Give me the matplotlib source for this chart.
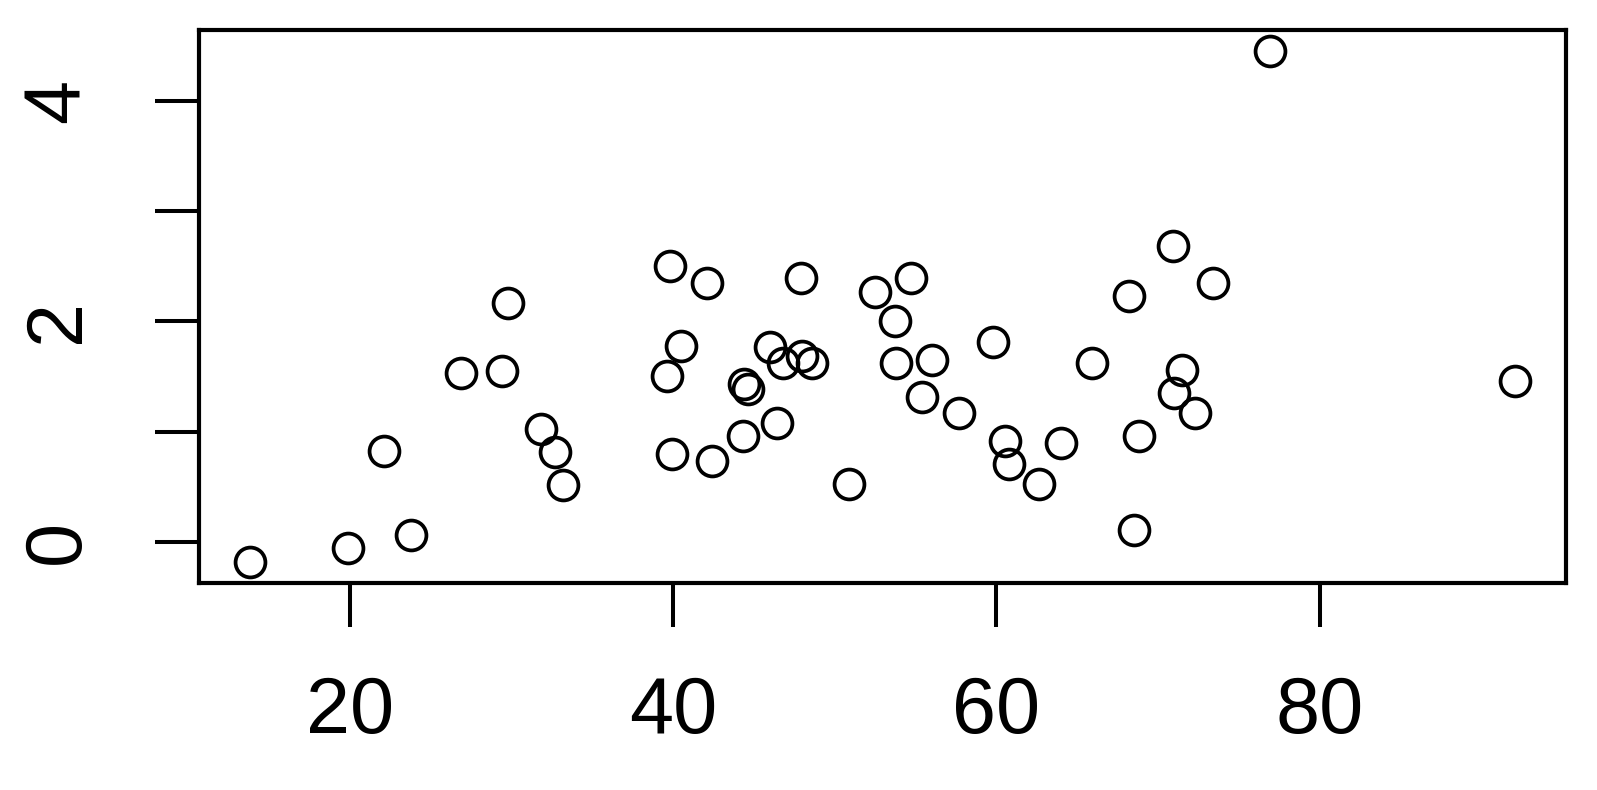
import numpy as np
import matplotlib
matplotlib.use("Agg")
from matplotlib import pyplot as plt

# values
x = [13.8, 19.9, 23.8, 22.1, 26.9, 29.4, 29.8, 31.8, 32.7, 33.2,
     39.8, 39.6, 40.5, 39.9, 42.1, 42.4, 44.3, 44.4, 44.6, 46.0,
     46.4, 46.8, 47.9, 48.0, 48.6, 50.9, 52.5, 53.7, 54.7, 53.8,
     56.0, 55.4, 57.7, 59.8, 60.5, 60.8, 62.6, 64.0, 65.9, 68.2,
     68.5, 68.8, 70.9, 73.4, 71.5, 71.0, 72.3, 76.9, 92.1]
y = [-0.18, -0.05, 0.07, 0.83, 1.53, 1.55, 2.17, 1.03, 0.82, 0.52,
     2.50, 1.51, 1.78, 0.80, 2.35, 0.74, 0.96, 1.43, 1.39, 1.77,
     1.08, 1.62, 2.39, 1.69, 1.62, 0.53, 2.27, 2.00, 2.39, 1.62,
     1.65, 1.32, 1.17, 1.81, 0.92, 0.71, 0.53, 0.90, 1.62, 2.23,
     0.11, 0.96, 2.68, 2.35, 1.56, 1.35, 1.17, 4.45, 1.46]

xticks = [20, 40, 60, 80]
yticks = [0, 1, 2, 3, 4]
ylabels = ['0', '', '2', '', '4']

plt.rcParams['font.family'] = ['Liberation Sans', 'DejaVu Sans']

fig = plt.figure(figsize=(15.97, 7.9), dpi=100)
ax = fig.add_axes([0.1246, 0.2625, 0.8560, 0.6989])

ax.plot(x, y, linestyle='none', marker='o', markersize=21.5,
        markerfacecolor='none', markeredgecolor='black', markeredgewidth=2.7)
ax.margins(0.04)

ax.set_xticks(xticks)
ax.set_yticks(yticks)
ax.set_yticklabels(ylabels)

for s in ax.spines.values():
    s.set_linewidth(3.0)

ax.tick_params(axis='both', direction='out', length=31.5, width=2.9, labelsize=57)
ax.tick_params(axis='x', pad=35)
ax.tick_params(axis='y', pad=43)
for lab in ax.get_yticklabels():
    lab.set_rotation(90)
    lab.set_va('center')

fig.savefig('out.png', dpi=100)
